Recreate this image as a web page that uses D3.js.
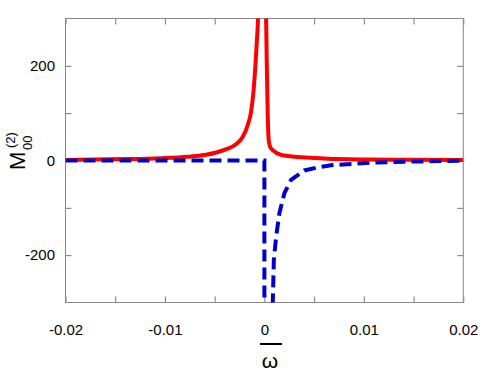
<!DOCTYPE html>
<html>
<head>
<meta charset="utf-8">
<script src="https://cdn.jsdelivr.net/npm/d3@7"></script>
<style>
  body { margin: 0; background: #fff; }
  text { font-family: "Liberation Sans", Arial, sans-serif; }
</style>
</head>
<body>
<div class="chart"></div>
<script>
// frequency values (omega) and curves
var redOmega = [-0.02, -0.0171, -0.01374, -0.01039, -0.0077, -0.00603, -0.00484, -0.00383, -0.00282, -0.00217,
  -0.00167, -0.00134, -0.0011, -0.0009, -0.00076, -0.00063, -0.0004, -0.0002, 0, 0.00017, 0.00024, 0.00034,
  0.00044, 0.0006, 0.00084, 0.00168, 0.0026, 0.0037, 0.0052, 0.0074, 0.0107, 0.0141, 0.02];
var redValue = [1, 2, 3, 5, 8, 11.6, 17, 24, 35, 50,
  75, 103, 145, 202, 251, 307, 600, 1200, 900, 307, 202, 92,
  42, 28, 22, 12, 9, 7, 5.5, 3, 2, 1.5, 1];

var blueOmega = [-0.02, -0.01, 0, 0, 0.0008, 0.00084, 0.00095, 0.00118, 0.00151, 0.00201, 0.00268,
  0.00402, 0.00537, 0.0067, 0.0074, 0.0107, 0.0141, 0.02];
var blueValue = [0, 0, 0, -600, -600, -303, -210, -161, -111, -69, -41,
  -21, -14.5, -10, -9, -4.6, -2.5, -0.5];

var xTicks = [-0.02, -0.015, -0.01, -0.005, 0, 0.005, 0.01, 0.015, 0.02];
var xTickLabels = ["-0.02", "", "-0.01", "", "0", "", "0.01", "", "0.02"];
var yTicks = [-200, -100, 0, 100, 200];
var yTickLabels = ["-200", "", "0", "", "200"];

var drawChart = function () {
    var width = 490, height = 381;
    var left = 65.5, right = 463.3, top = 18.5, bottom = 302.5;

    var svg = d3.select(".chart").append("svg")
        .attr("width", width)
        .attr("height", height);

    var x = d3.scaleLinear().domain([-0.02, 0.02]).range([left, right]);
    var y = d3.scaleLinear().domain([-300, 300]).range([bottom, top]);

    svg.append("clipPath").attr("id", "plotclip")
        .append("rect")
        .attr("x", left).attr("y", top)
        .attr("width", right - left).attr("height", bottom - top);

    var fmt = function (list, ticks) {
        return function (d) { return list[ticks.indexOf(d)]; };
    };

    // axes, ticks pointing inward on all four sides
    var gx = svg.append("g").attr("transform", "translate(0," + bottom + ")")
        .call(d3.axisBottom(x).tickValues(xTicks).tickFormat(fmt(xTickLabels, xTicks))
            .tickSizeInner(-6).tickSizeOuter(0).tickPadding(22));
    var gxt = svg.append("g").attr("transform", "translate(0," + top + ")")
        .call(d3.axisTop(x).tickValues(xTicks).tickFormat("")
            .tickSizeInner(-6).tickSizeOuter(0));
    var gy = svg.append("g").attr("transform", "translate(" + left + ",0)")
        .call(d3.axisLeft(y).tickValues(yTicks).tickFormat(fmt(yTickLabels, yTicks))
            .tickSizeInner(-6).tickSizeOuter(0).tickPadding(10.5));
    var gyr = svg.append("g").attr("transform", "translate(" + right + ",0)")
        .call(d3.axisRight(y).tickValues(yTicks).tickFormat("")
            .tickSizeInner(-6).tickSizeOuter(0));

    [gx, gxt, gy, gyr].forEach(function (g) {
        g.select(".domain").remove();
        g.selectAll(".tick line").attr("stroke", "#777");
        g.selectAll("text").attr("font-size", 15).attr("fill", "#000")
            .attr("font-family", "Liberation Sans, Arial, sans-serif");
    });

    svg.append("rect")
        .attr("x", left).attr("y", top)
        .attr("width", right - left).attr("height", bottom - top)
        .attr("fill", "none").attr("stroke", "#888").attr("stroke-width", 1);

    var line = d3.line()
        .x(function (d) { return x(d[0]); })
        .y(function (d) { return y(d[1]); });

    var plot = svg.append("g").attr("clip-path", "url(#plotclip)");

    plot.append("path")
        .datum(redOmega.map(function (w, i) { return [w, redValue[i]]; }))
        .attr("d", line.curve(d3.curveMonotoneX))
        .attr("fill", "none").attr("stroke", "#ff0000").attr("stroke-width", 4);

    plot.append("path")
        .datum(blueOmega.map(function (w, i) { return [w, blueValue[i]]; }))
        .attr("d", line.curve(d3.curveLinear))
        .attr("fill", "none").attr("stroke", "#0000cc").attr("stroke-width", 4)
        .attr("stroke-dasharray", "12,6");

    // y label: M with (2) above and 00 below, rotated
    svg.append("text").attr("transform", "translate(25,170) rotate(-90)")
        .attr("font-size", 22).text("M");
    svg.append("text").attr("transform", "translate(15,148) rotate(-90)")
        .attr("font-size", 13).text("(2)");
    svg.append("text").attr("transform", "translate(32,150) rotate(-90)")
        .attr("font-size", 13).text("00");

    // x label: omega with bar
    svg.append("line").attr("x1", 260).attr("x2", 282).attr("y1", 344).attr("y2", 344)
        .attr("stroke", "#000").attr("stroke-width", 2);
    svg.append("text").attr("x", 270).attr("y", 368).attr("text-anchor", "middle")
        .attr("font-size", 21).attr("font-family", "DejaVu Serif, serif").text("ω");
};

drawChart();
</script>
</body>
</html>
